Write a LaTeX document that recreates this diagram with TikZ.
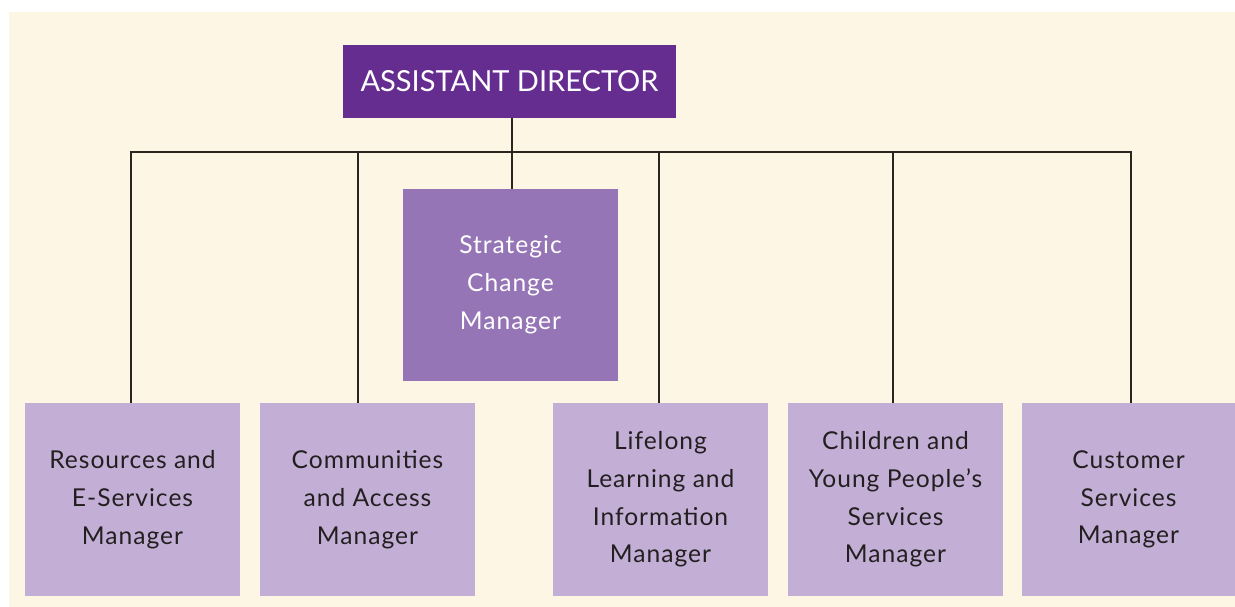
\documentclass[tikz,border=0pt]{standalone}
\usepackage{fontspec}
\setmainfont{Lato}
\newfontfamily\boxfont[LetterSpace=4]{Lato}
\definecolor{cream}{HTML}{FEF6E4}
\definecolor{darkpurple}{HTML}{662D91}
\definecolor{midpurple}{HTML}{9575B5}
\definecolor{lightpurple}{HTML}{C3AFD6}
\definecolor{linegray}{HTML}{2B2522}
\definecolor{textgray}{HTML}{231F20}
\tikzset{
	mgrbox/.style = {fill = lightpurple, text = textgray, align = center, inner sep = 0pt,
		minimum width = 4.3cm, minimum height = 3.86cm, font = \boxfont\fontsize{14}{21.5}\selectfont},
	link/.style   = {draw = linegray, line width = 1.2pt}
}
\begin{document}
\begin{tikzpicture}[x=0.02cm, y=-0.02cm]
	\useasboundingbox (0,0) rectangle (1235,607);
	\fill[cream] (9,12) rectangle (1235,607);
	\node (AD)  at (509.5,  81.5)	[fill = darkpurple, text = white, inner sep = 0pt, minimum width = 6.66cm, minimum height = 1.46cm, font = \fontsize{16.5}{20}\selectfont]	{ASSISTANT DIRECTOR};
	\node (SCM) at (510.5, 285)	[mgrbox, fill = midpurple, text = white, minimum height = 3.84cm]	{Strategic\\Change\\Manager};
	\node (M1)  at (132.5, 499.5)	[mgrbox]	{Resources and\\E-Services\\Manager};
	\node (M2)  at (367.5, 499.5)	[mgrbox]	{Communities\\and Access\\Manager};
	\node (M3)  at (660.5, 499.5)	[mgrbox]	{Lifelong\\Learning and\\Information\\Manager};
	\node (M4)  at (895.5, 499.5)	[mgrbox]	{Children and\\Young People’s\\Services\\Manager};
	\node (M5)  at (1128.5, 499.5)	[mgrbox, minimum width = 4.26cm]	{Customer\\Services\\Manager};
	\coordinate (B1) at (131, 152);
	\coordinate (B2) at (358, 152);
	\coordinate (B3) at (512, 152);
	\coordinate (B4) at (659, 152);
	\coordinate (B5) at (893, 152);
	\coordinate (B6) at (1131, 152);
	\draw[link] (AD.south -| B3) -- (SCM.north -| B3);
	\draw[link] (M1.north -| B1) -- (B1) -- (B6) -- (M5.north -| B6);
	\draw[link] (B2) -- (M2.north -| B2);
	\draw[link] (B4) -- (M3.north -| B4);
	\draw[link] (B5) -- (M4.north -| B5);
\end{tikzpicture}
\end{document}
